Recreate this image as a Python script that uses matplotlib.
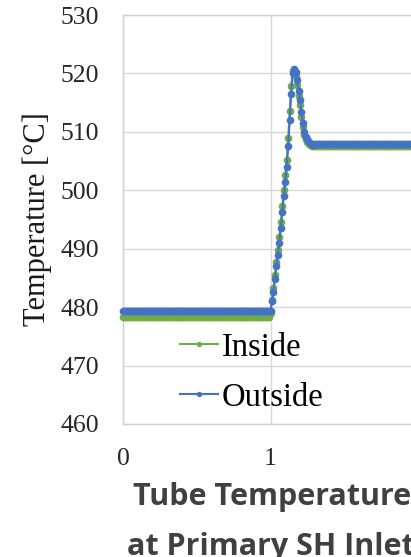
import numpy as np
import matplotlib
matplotlib.use("Agg")
import matplotlib.pyplot as plt

# Sampling times (one reading every 0.01)
time = np.round(np.arange(0, 301) * 0.01, 2)

# Steady readings before the step, at the new steady state, and the step itself (t = 1.00 .. 1.30)
inside_before = 478.3
outside_before = 479.4
inside_after = 507.5
outside_after = 507.9

inside_step = [479.0, 481.2, 483.2, 485.5, 487.7, 489.8, 492.0, 494.5, 497.3, 500.0,
               502.6, 505.2, 509.0, 513.5, 517.8, 520.4, 520.5, 519.6, 518.0, 516.2,
               514.6, 512.6, 510.8, 509.5, 508.7, 508.2, 507.9, 507.7, 507.6, 507.5,
               507.5]
outside_step = [479.4, 481.0, 482.6, 484.8, 487.0, 489.0, 491.0, 493.5, 496.3, 499.0,
                501.5, 504.0, 507.5, 512.0, 516.5, 520.0, 520.8, 520.2, 518.8, 517.0,
                515.5, 513.4, 511.5, 510.0, 509.2, 508.7, 508.3, 508.1, 507.9, 507.8,
                507.9]

inside = [inside_before] * 100 + inside_step + [inside_after] * 170
outside = [outside_before] * 100 + outside_step + [outside_after] * 170

x_ticks = [0, 1, 2, 3]
y_ticks = [460, 470, 480, 490, 500, 510, 520, 530]

W, H = 411, 557


def plot_tube_temperatures():
    fig = plt.figure(figsize=(W / 100, H / 100), dpi=100)

    # axes run past the right edge of the figure
    left, right_x1 = 123, 123 + 3 * 147.5
    top, bottom = 15, 424
    ax = fig.add_axes([left / W, (H - bottom) / H, (right_x1 - left) / W, (bottom - top) / H])

    ax.plot(time, inside, color="#70AD47", marker="o", markersize=5.5, markeredgewidth=0,
            linewidth=1.5, label="Inside", clip_on=False, zorder=3)
    ax.plot(time, outside, color="#4472C4", marker="o", markersize=5.5, markeredgewidth=0,
            linewidth=1.5, label="Outside", clip_on=False, zorder=4)

    ax.set_xlim(0, 3)
    ax.set_ylim(460, 530)
    ax.set_xticks(x_ticks)
    ax.set_yticks(y_ticks)
    ax.grid(True, color="#d9d9d9", linewidth=1.0)
    ax.set_axisbelow(True)
    for spine in ax.spines.values():
        spine.set_color("#d0d0d0")
        spine.set_linewidth(1.0)

    ax.tick_params(length=0, pad=17, labelsize=18.5, labelcolor="#262626")
    for lbl in ax.get_xticklabels() + ax.get_yticklabels():
        lbl.set_fontfamily("Liberation Serif")

    ax.set_ylabel("Temperature [°C]", family="Liberation Serif", fontsize=22, color="#1a1a1a")
    ax.yaxis.label.set_verticalalignment("center")
    ax.yaxis.set_label_coords((37 - left) / (right_x1 - left), 0.5)

    ax.legend(loc="upper left", bbox_to_anchor=(180 / W, 1 - 332 / H),
              bbox_transform=fig.transFigure, frameon=False, borderpad=0,
              borderaxespad=0, handlelength=1.17, handletextpad=0.12, labelspacing=0.6,
              markerscale=0.7, prop={"family": "Liberation Serif", "size": 23.5})

    # two-line title below the axis
    fig.text(133 / W, 1 - 505 / H, "Tube Temperature", family="Open Sans", weight="bold",
             fontsize=22, color="#404040", ha="left", va="baseline")
    fig.text(127 / W, 1 - 555 / H, "at Primary SH Inlet", family="Open Sans", weight="bold",
             fontsize=22, color="#404040", ha="left", va="baseline")

    fig.savefig("out.png", dpi=100)


if __name__ == "__main__":
    plot_tube_temperatures()
